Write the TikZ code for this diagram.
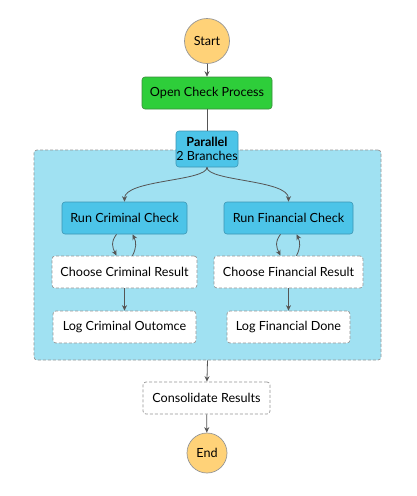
\documentclass[tikz,border=0pt]{standalone}
\usepackage{fontspec}
\setmainfont{Lato}
\usetikzlibrary{arrows.meta,calc}
\definecolor{startfill}{RGB}{255,210,120}
\definecolor{startdraw}{RGB}{150,150,150}
\definecolor{greenfill}{RGB}{46,206,58}
\definecolor{greendraw}{RGB}{60,140,60}
\definecolor{bluefill}{RGB}{76,196,232}
\definecolor{bluedraw}{RGB}{60,150,180}
\definecolor{regionfill}{RGB}{160,225,242}
\definecolor{dashgray}{RGB}{150,150,150}
\definecolor{linegray}{RGB}{85,85,85}
\tikzset{
  every node/.style={font=\fontsize{12.6}{15}\selectfont, text=black, inner sep=0pt},
  circ/.style={circle, fill=startfill, draw=startdraw, line width=0.7pt},
  greenbox/.style={rectangle, rounded corners=3pt, fill=greenfill, draw=greendraw, line width=0.6pt, minimum height=32pt},
  bluebox/.style={rectangle, rounded corners=3pt, fill=bluefill, draw=bluedraw, line width=0.6pt, minimum height=32pt},
  whitebox/.style={rectangle, rounded corners=3pt, fill=white, draw=dashgray, dashed, dash pattern=on 3pt off 2pt, line width=0.7pt, minimum height=32pt},
  conn/.style={draw=linegray, line width=0.8pt, -{Stealth[length=5.5pt,width=5pt]}},
  plain/.style={draw=linegray, line width=0.8pt},
}
\begin{document}
\begin{tikzpicture}[x=1pt,y=-1pt]
\useasboundingbox (0,0) rectangle (417,496);
\fill[white] (0,0) rectangle (417,496);
% region
\node[rectangle, rounded corners=3pt, fill=regionfill, draw=dashgray, dashed, dash pattern=on 3pt off 2pt, line width=0.7pt, minimum width=347pt, minimum height=210pt] (region) at (207.5,255) {};
\node[circ, minimum size=45pt] (start) at (207,41) {Start};
\node[greenbox, minimum width=130pt] (open) at (207,93) {Open Check Process};
\node[bluebox, minimum width=62pt, minimum height=36pt, align=center] (par) at (207,149) {\textbf{Parallel}\\[-1pt]2 Branches};
\node[bluebox, minimum width=125pt] (rc) at (124.5,218) {Run Criminal Check};
\node[whitebox, minimum width=145pt] (cc) at (124.5,272) {Choose Criminal Result};
\node[whitebox, minimum width=143pt] (lc) at (124.5,327) {Log Criminal Outomce};
\node[bluebox, minimum width=129pt] (rf) at (288.5,218) {Run Financial Check};
\node[whitebox, minimum width=149pt] (cf) at (288.5,272) {Choose Financial Result};
\node[whitebox, minimum width=123pt] (lf) at (288.5,327) {Log Financial Done};
\node[whitebox, minimum width=127pt] (cons) at (206.5,398) {Consolidate Results};
\node[circ, minimum size=40pt] (end) at (207,453) {End};
% connectors
\draw[conn] (start) -- (open);
\draw[plain] (open) -- (par);
\draw[conn] (par.south) .. controls +(0,14) and +(0,-22) .. (rc.north);
\draw[conn] (par.south) .. controls +(0,14) and +(0,-22) .. (rf.north);
\draw[conn] ($(rc.south)+(-8,0)$) .. controls +(-6,8) and +(-4,-8) .. ($(cc.north)+(-8,0)$);
\draw[conn] ($(cc.north)+(8,0)$) .. controls +(4,-8) and +(4,8) .. ($(rc.south)+(8,0)$);
\draw[conn] ($(rf.south)+(-8,0)$) .. controls +(-6,8) and +(-4,-8) .. ($(cf.north)+(-8,0)$);
\draw[conn] ($(cf.north)+(8,0)$) .. controls +(4,-8) and +(4,8) .. ($(rf.south)+(8,0)$);
\draw[conn] (cc) -- (lc);
\draw[conn] (cf) -- (lf);
\draw[conn] (region.south) -- (cons);
\draw[conn] (cons) -- (end);
\end{tikzpicture}
\end{document}
